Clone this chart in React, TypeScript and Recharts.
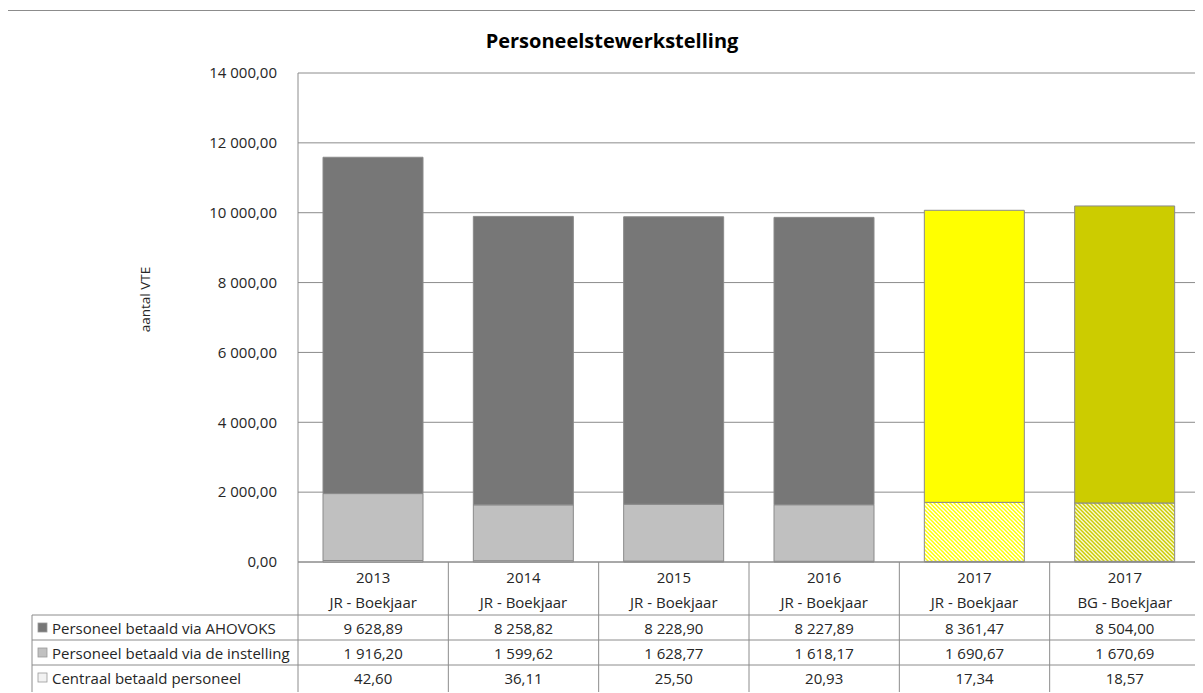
import React from 'react';
import { BarChart, Bar, XAxis, YAxis, CartesianGrid, Cell, Label } from 'recharts';

const years = ['2013', '2014', '2015', '2016', '2017', '2017'];
const subLabels = ['JR - Boekjaar', 'JR - Boekjaar', 'JR - Boekjaar', 'JR - Boekjaar', 'JR - Boekjaar', 'BG - Boekjaar'];
const ahovoks = [9628.89, 8258.82, 8228.9, 8227.89, 8361.47, 8504.0];
const instelling = [1916.2, 1599.62, 1628.77, 1618.17, 1690.67, 1670.69];
const centraal = [42.6, 36.11, 25.5, 20.93, 17.34, 18.57];
const yTicks = [0, 2000, 4000, 6000, 8000, 10000, 12000, 14000];

const seriesNames = [
  'Personeel betaald via AHOVOKS',
  'Personeel betaald via de instelling',
  'Centraal betaald personeel',
];

const data = years.map((y, i) => ({
  id: `${y}-${i}`,
  ahovoks: ahovoks[i],
  instelling: instelling[i],
  centraal: centraal[i],
}));

// colours per category (last two are the 2017 columns)
const topColors = ['#777777', '#777777', '#777777', '#777777', '#ffff00', '#cccc00'];
const midColors = ['#c0c0c0', '#c0c0c0', '#c0c0c0', '#c0c0c0', 'url(#hatchJR)', 'url(#hatchBG)'];
const keyColors = ['#777777', '#c0c0c0', '#f2f2f2'];

const CHART_W = 1194;
const CHART_H = 682;
const Y_AXIS_W = 290;
const M_RIGHT = 2;
const COL_W = (CHART_W - Y_AXIS_W - M_RIGHT) / years.length;
const LINE = '#8c8c8c';
const TXT = '#262626';
const FS = 15;

const fmt = (v: number) => {
  const [int, dec] = v.toFixed(2).split('.');
  return int.replace(/\B(?=(\d{3})+(?!\d))/g, ' ') + ',' + dec;
};

const TableTick = (props: any) => {
  const { x, y, index } = props;
  const left = x - COL_W / 2;
  const right = x + COL_W / 2;
  const rows = [ahovoks, instelling, centraal];
  return (
    <g fontFamily="Open Sans" fontSize={FS} fill={TXT}>
      <line x1={left} x2={left} y1={y} y2={y + 130} stroke={LINE} />
      {index === years.length - 1 && <line x1={right} x2={right} y1={y} y2={y + 130} stroke={LINE} />}
      <text x={x} y={y + 15} textAnchor="middle" dominantBaseline="central" fill={TXT}>{years[index]}</text>
      <text x={x} y={y + 40} textAnchor="middle" dominantBaseline="central" fill={TXT}>{subLabels[index]}</text>
      {[53, 78, 103].map((dy) => (
        <line key={dy} x1={left} x2={right} y1={y + dy} y2={y + dy} stroke={LINE} />
      ))}
      {rows.map((r, ri) => (
        <text key={ri} x={x} y={y + 66 + ri * 25} textAnchor="middle" dominantBaseline="central" fill={TXT}>
          {fmt(r[index])}
        </text>
      ))}
      {index === 0 && (
        <g>
          <line x1={left - 266} x2={left} y1={y + 53} y2={y + 53} stroke={LINE} />
          <line x1={left - 266} x2={left} y1={y + 78} y2={y + 78} stroke={LINE} />
          <line x1={left - 266} x2={left} y1={y + 103} y2={y + 103} stroke={LINE} />
          <line x1={left - 266} x2={left - 266} y1={y + 53} y2={y + 130} stroke={LINE} />
          {seriesNames.map((n, ri) => (
            <g key={n}>
              <rect x={left - 260} y={y + 61 + ri * 25} width={9} height={9} fill={keyColors[ri]} stroke="#999999" strokeWidth={0.8} />
              <text x={left - 246} y={y + 66 + ri * 25} dominantBaseline="central" fill={TXT}>{n}</text>
            </g>
          ))}
        </g>
      )}
    </g>
  );
};

export default function App() {
  return (
    <div
      style={{
        position: 'relative',
        marginTop: 2,
        marginLeft: -1,
        width: CHART_W + 2,
        height: CHART_H + 1,
        borderLeft: `1px solid ${LINE}`,
        borderTop: `1px solid ${LINE}`,
        fontFamily: 'Open Sans',
      }}
    >
      <div
        style={{
          position: 'absolute',
          top: 16,
          left: 604,
          transform: 'translateX(-50%)',
          fontSize: 20,
          fontWeight: 700,
          color: '#000',
          whiteSpace: 'nowrap',
        }}
      >
        Personeelstewerkstelling
      </div>
      <BarChart
        width={CHART_W}
        height={CHART_H}
        data={data}
        margin={{ top: 62, right: M_RIGHT, bottom: 0, left: 0 }}
      >
        <defs>
          <pattern id="hatchJR" patternUnits="userSpaceOnUse" width={4} height={4}>
            <rect width={4} height={4} fill="#ffff00" />
            <path d="M0,0 L4,4 M-1,3 L1,5 M3,-1 L5,1" stroke="#ffffff" strokeWidth={1.4} />
          </pattern>
          <pattern id="hatchBG" patternUnits="userSpaceOnUse" width={4} height={4}>
            <rect width={4} height={4} fill="#cccc00" />
            <path d="M0,0 L4,4 M-1,3 L1,5 M3,-1 L5,1" stroke="#f8f8d8" strokeWidth={1.4} />
          </pattern>
        </defs>
        <CartesianGrid vertical={false} stroke={LINE} />
        <XAxis
          dataKey="id"
          interval={0}
          height={CHART_H - 62 - 489}
          tickLine={false}
          tickSize={0}
          tickMargin={0}
          axisLine={{ stroke: LINE }}
          tick={<TableTick />}
        />
        <YAxis
          width={Y_AXIS_W}
          domain={[0, 14000]}
          ticks={yTicks}
          interval={0}
          tickLine={false}
          tickSize={0}
          tickMargin={21}
          axisLine={{ stroke: LINE }}
          tickFormatter={fmt}
          tick={{ fontSize: FS, fill: TXT, fontFamily: 'Open Sans' }}
        >
          <Label
            content={(p: any) => {
              const vb = p.viewBox;
              const cx = 137;
              const cy = vb.y + vb.height / 2 - 18;
              return (
                <text
                  x={cx}
                  y={cy}
                  transform={`rotate(-90 ${cx} ${cy})`}
                  textAnchor="middle"
                  dominantBaseline="central"
                  fontSize={13.5}
                  fontFamily="Open Sans"
                  fill={TXT}
                >
                  aantal VTE
                </text>
              );
            }}
          />
        </YAxis>
        <Bar dataKey="centraal" stackId="a" fill="#f2f2f2" stroke="#8a8a8a" barSize={100} isAnimationActive={false} />
        <Bar dataKey="instelling" stackId="a" stroke="#8a8a8a" barSize={100} isAnimationActive={false}>
          {data.map((d, i) => (
            <Cell key={d.id} fill={midColors[i]} />
          ))}
        </Bar>
        <Bar dataKey="ahovoks" stackId="a" stroke="#8a8a8a" barSize={100} isAnimationActive={false}>
          {data.map((d, i) => (
            <Cell key={d.id} fill={topColors[i]} />
          ))}
        </Bar>
      </BarChart>
    </div>
  );
}
